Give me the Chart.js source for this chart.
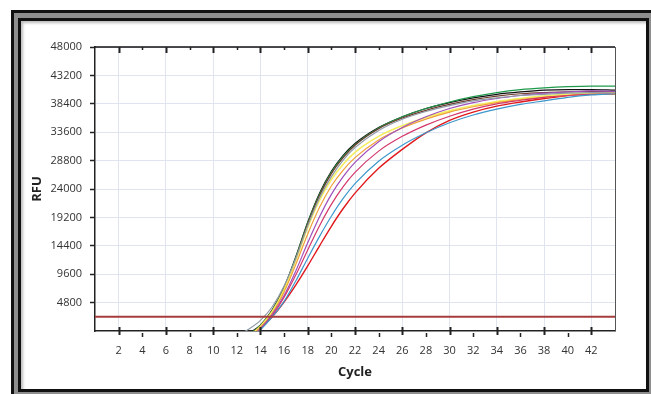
<!DOCTYPE html>
<html>
<head>
<meta charset="utf-8">
<script src="https://cdn.jsdelivr.net/npm/chart.js@4"></script>
<style>
	html, body { margin: 0; padding: 0; background: #fff; overflow: hidden; }
	body { width: 651px; height: 394px; position: relative; }
	#outer {
		position: absolute; left: 11px; top: 10px; width: 660px; height: 400px;
		border: 3px solid #111; background: #8e8e8e; box-sizing: border-box;
	}
	#inner {
		position: absolute; left: 18px; top: 18px; width: 631px; height: 374px;
		border: 3px solid #111; background: #fff; box-sizing: border-box;
		box-shadow: inset 2px 2px 3px #bbb;
	}
	#chart { position: absolute; left: 0; top: 0; }
</style>
</head>
<body>
<div id="outer"></div>
<div id="inner"></div>
<canvas id="chart" width="651" height="394"></canvas>
<script>
const cycles = [12, 13, 14, 15, 16, 17, 18, 19, 20, 21, 22, 24, 26, 28, 30, 32, 34, 36, 38, 40, 42, 44]

// RFU values per well (values below 0 get clipped by the axis, like the original)
const black   = [-2000, -400, 1000, 3600, 7400, 12600, 18400, 23300, 27000, 29700, 31700, 34400, 36200, 37600, 38600, 39400, 40000, 40400, 40700, 40800, 40800, 40700]
const green   = [-2200, -600, 1000, 3500, 7300, 12500, 18300, 23100, 26800, 29500, 31500, 34300, 36200, 37600, 38700, 39600, 40300, 40800, 41100, 41300, 41400, 41400]
const brown   = [-2300, -700, 900, 3400, 7200, 12300, 18100, 22900, 26600, 29300, 31400, 34200, 36000, 37300, 38300, 39100, 39700, 40100, 40300, 40400, 40500, 40400]
const grey    = [-800, 300, 1800, 4100, 7600, 12300, 17800, 22500, 26100, 28900, 31000, 33900, 35800, 37100, 38100, 38900, 39400, 39800, 40000, 40200, 40300, 40200]
const yellow  = [-2500, -900, 800, 3300, 7000, 12000, 17500, 22100, 25600, 28200, 30200, 32900, 34700, 36100, 37200, 38100, 38800, 39300, 39700, 40000, 40200, 40200]
const orange  = [-2700, -1100, 600, 3000, 6600, 11300, 16400, 20900, 24500, 27200, 29300, 32300, 34300, 35800, 37000, 37900, 38600, 39100, 39500, 39800, 40000, 40000]
const purple  = [-3000, -1400, 400, 2800, 6000, 10200, 14900, 19300, 23100, 26100, 28500, 32000, 34400, 36200, 37600, 38600, 39300, 39800, 40200, 40400, 40600, 40500]
const crimson = [-3000, -1500, 300, 2600, 5700, 9500, 13700, 17800, 21400, 24400, 26800, 30400, 32900, 34800, 36300, 37500, 38400, 39000, 39500, 39800, 40000, 40100]
const blue    = [-3200, -1700, 200, 2400, 5000, 8500, 12300, 16000, 19400, 22400, 24900, 28700, 31400, 33500, 35200, 36500, 37500, 38300, 38900, 39500, 39900, 40100]
const red     = [-4000, -2000, 400, 2400, 4900, 7800, 11000, 14400, 17700, 20700, 23300, 27500, 30700, 33500, 35600, 37000, 38000, 38700, 39300, 39800, 40200, 40400]

const threshold = 2400
const xMin = 0
const xMax = 44
const yMax = 48000
const yStep = 4800

function toPoints(values) {
	return values.map((v, i) => ({ x: cycles[i], y: v }))
}

function curve(values, color, width) {
	return {
		data: toPoints(values),
		borderColor: color,
		borderWidth: width || 1.2,
		pointRadius: 0,
		cubicInterpolationMode: "monotone",
		fill: false
	}
}

// tick marks on the bottom and top edges: long ones every 4 cycles, short in between
const edgeTicks = {
	id: "edgeTicks",
	afterDraw(chart) {
		let ctx = chart.ctx
		let area = chart.chartArea
		let x = chart.scales.x
		ctx.save()
		ctx.strokeStyle = "#111"
		ctx.lineWidth = 1.5
		ctx.beginPath()
		ctx.moveTo(area.left, area.top)
		ctx.lineTo(area.right, area.top)
		ctx.stroke()
		ctx.strokeStyle = "#555"
		ctx.lineWidth = 1
		ctx.beginPath()
		ctx.moveTo(area.right + 0.5, area.top)
		ctx.lineTo(area.right + 0.5, area.bottom)
		ctx.stroke()
		ctx.strokeStyle = "#222"
		for(let c = 2; c <= 42; c += 2) {
			let px = Math.round(x.getPixelForValue(c)) + 0.5
			let major = c % 4 === 2
			ctx.lineWidth = major ? 2 : 1.5
			ctx.beginPath()
			if(major) {
				ctx.moveTo(px, area.bottom - 4)
				ctx.lineTo(px, area.bottom + 4)
				ctx.moveTo(px, area.top)
				ctx.lineTo(px, area.top + 6)
			} else {
				ctx.moveTo(px, area.bottom + 2)
				ctx.lineTo(px, area.bottom + 6)
				ctx.moveTo(px, area.top)
				ctx.lineTo(px, area.top + 3)
			}
			ctx.stroke()
		}
		ctx.restore()
	}
}

Chart.defaults.font.family = "'Open Sans', sans-serif"
Chart.defaults.font.size = 11
Chart.defaults.color = "#333"

new Chart(document.getElementById("chart"), {
	type: "line",
	data: {
		datasets: [
			{
				data: [{ x: xMin, y: threshold }, { x: xMax, y: threshold }],
				borderColor: "#a63c3c",
				borderWidth: 2,
				pointRadius: 0
			},
			curve(grey, "#8f9aa6"),
			curve(blue, "#3d98cc"),
			curve(crimson, "#d4386a"),
			curve(purple, "#a04fbb"),
			curve(orange, "#f0a038"),
			curve(yellow, "#f3ee5e", 1.6),
			curve(brown, "#6e3b2a"),
			curve(green, "#1f9a4c"),
			curve(black, "#111111"),
			curve(red, "#e0181c", 1.4)
		]
	},
	options: {
		responsive: false,
		animation: false,
		layout: { padding: { left: 0, top: 47, right: 36, bottom: 0 } },
		plugins: { legend: { display: false }, tooltip: { enabled: false } },
		scales: {
			x: {
				type: "linear",
				min: xMin,
				max: xMax,
				afterFit: (scale) => { scale.height = 63 },
				ticks: {
					stepSize: 2,
					padding: 13,
					maxRotation: 0,
					autoSkip: false,
					callback: (v) => (v === xMin || v === xMax) ? null : v
				},
				grid: {
					drawTicks: false,
					color: (ctx) => (ctx.tick && ctx.tick.value % 4 === 2) ? "#dfe4ee" : "rgba(0,0,0,0)"
				},
				border: { color: "#222", width: 1.5 },
				title: {
					display: true,
					text: "Cycle",
					color: "#222",
					font: { size: 13, weight: "bold" },
					padding: { top: 0, bottom: 14 }
				}
			},
			y: {
				min: 0,
				max: yMax,
				afterFit: (scale) => { scale.width = 95 },
				ticks: {
					stepSize: yStep,
					padding: 8,
					callback: (v) => v === 0 ? null : v
				},
				grid: {
					color: "#dfe4ee",
					tickColor: "#222",
					tickLength: 5,
					tickWidth: 1.5
				},
				border: { color: "#222", width: 1.5 },
				title: {
					display: true,
					text: "RFU",
					color: "#222",
					font: { size: 13, weight: "bold" },
					padding: { top: 29, bottom: 0 }
				}
			}
		}
	},
	plugins: [edgeTicks]
})
</script>
</body>
</html>
